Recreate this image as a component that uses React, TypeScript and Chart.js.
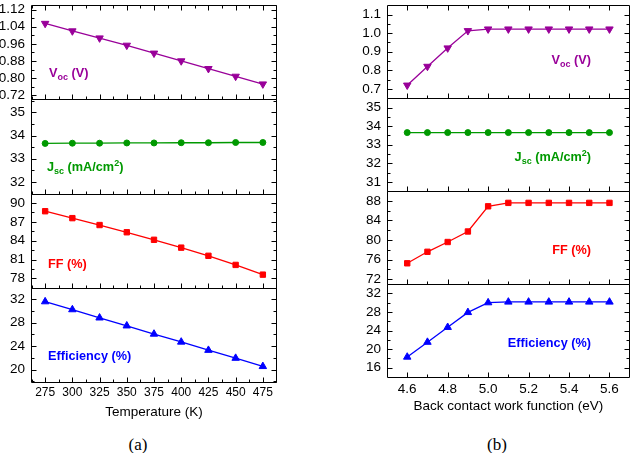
import React, { useEffect, useRef } from 'react';
import { Chart, registerables } from 'chart.js';

Chart.register(...registerables);

const FONT = "'Liberation Sans', Arial, Helvetica, sans-serif";
const SERIF = "'Liberation Serif', 'Times New Roman', serif";

// ---------- (a) Temperature dependence ----------
const temperatures = [275, 300, 325, 350, 375, 400, 425, 450, 475];
const vocTemp = [1.055, 1.02, 0.987, 0.953, 0.916, 0.88, 0.844, 0.808, 0.772];
const jscTemp = [33.66, 33.67, 33.67, 33.68, 33.68, 33.69, 33.69, 33.7, 33.7];
const ffTemp = [88.7, 87.6, 86.5, 85.35, 84.15, 82.9, 81.6, 80.15, 78.6];
const effTemp = [31.55, 30.2, 28.8, 27.45, 26.05, 24.7, 23.3, 21.95, 20.55];

const temperatureTicks = [275, 300, 325, 350, 375, 400, 425, 450, 475];
const vocTempTicks = [0.72, 0.8, 0.88, 0.96, 1.04, 1.12];
const jscTempTicks = [32, 33, 34, 35];
const ffTempTicks = [78, 81, 84, 87, 90];
const effTempTicks = [20, 24, 28, 32];

// ---------- (b) Back contact work function ----------
const workFunctions = [4.6, 4.7, 4.8, 4.9, 5.0, 5.1, 5.2, 5.3, 5.4, 5.5, 5.6];
const vocWf = [0.72, 0.821, 0.92, 1.013, 1.022, 1.022, 1.022, 1.022, 1.022, 1.022, 1.022];
const jscWf = [33.65, 33.65, 33.65, 33.65, 33.65, 33.65, 33.65, 33.65, 33.65, 33.65, 33.65];
const ffWf = [75.25, 77.6, 79.6, 81.75, 86.9, 87.6, 87.6, 87.6, 87.6, 87.6, 87.6];
const effWf = [18.3, 21.5, 24.7, 27.9, 30.0, 30.15, 30.15, 30.15, 30.15, 30.15, 30.15];

const workFunctionTicks = [4.6, 4.8, 5.0, 5.2, 5.4, 5.6];
const vocWfTicks = [0.7, 0.8, 0.9, 1.0, 1.1];
const jscWfTicks = [31, 32, 33, 34, 35];
const ffWfTicks = [72, 76, 80, 84, 88];
const effWfTicks = [16, 20, 24, 28, 32];

const PURPLE = '#990099';
const GREEN = '#009900';
const RED = '#ff0000';
const BLUE = '#0000ff';

type PanelSpec = {
  id: string;
  values: number[];
  color: string;
  pointStyle: string;
  rotation: number;
  radius: number;
  min: number;
  max: number;
  ticks: number[];
  decimals: number;
};

type ColumnSpec = {
  left: number;
  width: number;
  height: number;
  padding: { top: number; right: number; bottom: number; left: number };
  yWidth: number;
  xHeight: number;
  xTickPadding: number;
  xTickSize: number;
  xs: number[];
  xMin: number;
  xMax: number;
  xTicks: number[];
  xDecimals: number;
  xTitle: string;
  panels: PanelSpec[];
};

const leftSpec: ColumnSpec = {
  left: 0,
  width: 290,
  height: 425,
  padding: { top: 4, right: 13, bottom: 3, left: 0 },
  yWidth: 31,
  xHeight: 40,
  xTickPadding: 3,
  xTickSize: 12,
  xs: temperatures,
  xMin: 262,
  xMax: 488,
  xTicks: temperatureTicks,
  xDecimals: 0,
  xTitle: 'Temperature (K)',
  panels: [
    { id: 'yVoc', values: vocTemp, color: PURPLE, pointStyle: 'triangle', rotation: 180, radius: 4.3, min: 0.7, max: 1.14, ticks: vocTempTicks, decimals: 2 },
    { id: 'yJsc', values: jscTemp, color: GREEN, pointStyle: 'circle', rotation: 0, radius: 3, min: 31.5, max: 35.55, ticks: jscTempTicks, decimals: 0 },
    { id: 'yFF', values: ffTemp, color: RED, pointStyle: 'rect', rotation: 0, radius: 3.8, min: 76.5, max: 91.5, ticks: ffTempTicks, decimals: 0 },
    { id: 'yEff', values: effTemp, color: BLUE, pointStyle: 'triangle', rotation: 0, radius: 4.3, min: 17.9, max: 33.9, ticks: effTempTicks, decimals: 0 },
  ],
};

const rightSpec: ColumnSpec = {
  left: 330,
  width: 305,
  height: 425,
  padding: { top: 1, right: 2, bottom: 9, left: 0 },
  yWidth: 57,
  xHeight: 39,
  xTickPadding: 4,
  xTickSize: 13.5,
  xs: workFunctions,
  xMin: 4.5,
  xMax: 5.7,
  xTicks: workFunctionTicks,
  xDecimals: 1,
  xTitle: 'Back contact work function (eV)',
  panels: [
    { id: 'yVoc', values: vocWf, color: PURPLE, pointStyle: 'triangle', rotation: 180, radius: 4.3, min: 0.65, max: 1.15, ticks: vocWfTicks, decimals: 1 },
    { id: 'yJsc', values: jscWf, color: GREEN, pointStyle: 'circle', rotation: 0, radius: 3, min: 30.5, max: 35.5, ticks: jscWfTicks, decimals: 0 },
    { id: 'yFF', values: ffWf, color: RED, pointStyle: 'rect', rotation: 0, radius: 3.8, min: 71, max: 90, ticks: ffWfTicks, decimals: 0 },
    { id: 'yEff', values: effWf, color: BLUE, pointStyle: 'triangle', rotation: 0, radius: 4.3, min: 14, max: 34, ticks: effWfTicks, decimals: 0 },
  ],
};

function minorTicks(major: number[], min: number, max: number): number[] {
  const step = major[1] - major[0];
  const eps = Math.abs(step) * 1e-3;
  const out: number[] = [];
  for (let k = -40; k < major.length + 40; k++) {
    const v = major[0] + (k + 0.5) * step;
    if (v > min + eps && v < max - eps) out.push(v);
  }
  return out;
}

const MAJOR = 5;
const MINOR = 3;

function buildConfig(spec: ColumnSpec): any {
  const scales: any = {
    x: {
      type: 'linear',
      position: 'bottom',
      min: spec.xMin,
      max: spec.xMax,
      afterBuildTicks: (s: any) => {
        s.ticks = spec.xTicks.map((v) => ({ value: v }));
      },
      afterFit: (s: any) => {
        s.height = spec.xHeight;
        s.paddingLeft = 0;
        s.paddingRight = 0;
      },
      ticks: {
        autoSkip: false,
        maxRotation: 0,
        padding: spec.xTickPadding,
        color: '#000',
        font: { family: FONT, size: spec.xTickSize },
        callback: (v: any) => Number(v).toFixed(spec.xDecimals),
      },
      grid: { display: false, drawTicks: false },
      border: { display: false },
      title: {
        display: true,
        text: spec.xTitle,
        color: '#000',
        font: { family: FONT, size: 13.5 },
        padding: { top: 0, bottom: 2 },
      },
    },
  };

  spec.panels.forEach((p, i) => {
    scales[p.id] = {
      type: 'linear',
      position: 'left',
      stack: 'panels',
      stackWeight: 1,
      weight: spec.panels.length - i,
      min: p.min,
      max: p.max,
      afterBuildTicks: (s: any) => {
        s.ticks = p.ticks.map((v) => ({ value: v }));
      },
      afterFit: (s: any) => {
        s.width = spec.yWidth;
        s.paddingTop = 0;
        s.paddingBottom = 0;
      },
      ticks: {
        autoSkip: false,
        padding: 6,
        color: '#000',
        font: { family: FONT, size: 13.5 },
        callback: (v: any) => Number(v).toFixed(p.decimals),
      },
      grid: { display: false, drawTicks: false },
      border: { display: false },
    };
  });

  const datasets = spec.panels.map((p) => ({
    data: spec.xs.map((x, j) => ({ x, y: p.values[j] })),
    xAxisID: 'x',
    yAxisID: p.id,
    borderColor: p.color,
    backgroundColor: p.color,
    borderWidth: 1.3,
    pointStyle: p.pointStyle,
    pointRotation: p.rotation,
    pointRadius: p.radius,
    pointBorderWidth: 1,
    pointBorderColor: p.color,
    pointBackgroundColor: p.color,
    tension: 0,
    clip: false,
  }));

  const framePlugin = {
    id: 'panelFrames',
    beforeDatasetsDraw(chart: any) {
      const ctx = chart.ctx as CanvasRenderingContext2D;
      const area = chart.chartArea;
      const xs = chart.scales.x;
      const L = Math.round(area.left) + 0.5;
      const R = Math.round(area.right) - 0.5;
      const xMinor = minorTicks(spec.xTicks, spec.xMin, spec.xMax);
      ctx.save();
      ctx.strokeStyle = '#000';
      ctx.lineWidth = 1;
      spec.panels.forEach((p, i) => {
        const s = chart.scales[p.id];
        const T = Math.round(s.top) + 0.5;
        const B = Math.round(s.bottom) + 0.5;
        ctx.beginPath();
        ctx.rect(L, T, R - L, B - T);
        const seg = (x1: number, y1: number, x2: number, y2: number) => {
          ctx.moveTo(x1, y1);
          ctx.lineTo(x2, y2);
        };
        p.ticks.forEach((v) => {
          const y = Math.round(s.getPixelForValue(v)) + 0.5;
          seg(L, y, L + MAJOR, y);
          seg(R, y, R - MAJOR, y);
        });
        minorTicks(p.ticks, p.min, p.max).forEach((v) => {
          const y = Math.round(s.getPixelForValue(v)) + 0.5;
          seg(L, y, L + MINOR, y);
          seg(R, y, R - MINOR, y);
        });
        spec.xTicks.forEach((v) => {
          const x = Math.round(xs.getPixelForValue(v)) + 0.5;
          seg(x, B, x, B - MAJOR);
          if (i === 0) seg(x, T, x, T + MAJOR);
        });
        xMinor.forEach((v) => {
          const x = Math.round(xs.getPixelForValue(v)) + 0.5;
          seg(x, B, x, B - MINOR);
          if (i === 0) seg(x, T, x, T + MINOR);
        });
        ctx.stroke();
      });
      ctx.restore();
    },
  };

  return {
    type: 'line',
    data: { datasets },
    options: {
      animation: false,
      responsive: false,
      maintainAspectRatio: false,
      devicePixelRatio: 1,
      layout: { padding: spec.padding },
      plugins: { legend: { display: false }, tooltip: { enabled: false } },
      scales,
    },
    plugins: [framePlugin],
  };
}

function Column({ spec }: { spec: ColumnSpec }) {
  const ref = useRef<HTMLCanvasElement>(null);
  useEffect(() => {
    const canvas = ref.current;
    if (!canvas) return;
    const chart = new Chart(canvas, buildConfig(spec));
    return () => chart.destroy();
  }, [spec]);
  return (
    <canvas
      ref={ref}
      width={spec.width}
      height={spec.height}
      style={{ position: 'absolute', left: spec.left, top: 0, width: spec.width, height: spec.height }}
    />
  );
}

const subStyle: React.CSSProperties = { fontSize: '9px', position: 'relative', top: '3px' };
const supStyle: React.CSSProperties = { fontSize: '9px', position: 'relative', top: '-5px' };

function PanelLabel({ x, top, align, color, children }: { x: number; top: number; align: 'left' | 'right'; color: string; children: React.ReactNode }) {
  const style: React.CSSProperties = {
    position: 'absolute',
    top,
    fontFamily: FONT,
    fontWeight: 'bold',
    fontSize: '12.7px',
    lineHeight: '14px',
    color,
    whiteSpace: 'nowrap',
  };
  if (align === 'left') style.left = x;
  else style.right = 635 - x;
  return <div style={style}>{children}</div>;
}

const Voc = () => (
  <>
    V<span style={subStyle}>oc</span> (V)
  </>
);
const Jsc = () => (
  <>
    J<span style={subStyle}>sc</span> (mA/cm<span style={supStyle}>2</span>)
  </>
);

export default function App() {
  return (
    <div style={{ position: 'absolute', left: 0, top: 0, width: 635, height: 453, background: '#fff', overflow: 'hidden' }}>
      <Column spec={leftSpec} />
      <Column spec={rightSpec} />

      <PanelLabel x={49} top={65.5} align="left" color={PURPLE}><Voc /></PanelLabel>
      <PanelLabel x={47} top={160} align="left" color={GREEN}><Jsc /></PanelLabel>
      <PanelLabel x={48} top={256.5} align="left" color={RED}>FF (%)</PanelLabel>
      <PanelLabel x={48} top={349} align="left" color={BLUE}>Efficiency (%)</PanelLabel>

      <PanelLabel x={591} top={53} align="right" color={PURPLE}><Voc /></PanelLabel>
      <PanelLabel x={591} top={150} align="right" color={GREEN}><Jsc /></PanelLabel>
      <PanelLabel x={591} top={243} align="right" color={RED}>FF (%)</PanelLabel>
      <PanelLabel x={591} top={336} align="right" color={BLUE}>Efficiency (%)</PanelLabel>

      <div style={{ position: 'absolute', left: 118, width: 40, top: 435, textAlign: 'center', fontFamily: SERIF, fontSize: '17px', lineHeight: '20px', color: '#000' }}>(a)</div>
      <div style={{ position: 'absolute', left: 477, width: 40, top: 435, textAlign: 'center', fontFamily: SERIF, fontSize: '17px', lineHeight: '20px', color: '#000' }}>(b)</div>
    </div>
  );
}
